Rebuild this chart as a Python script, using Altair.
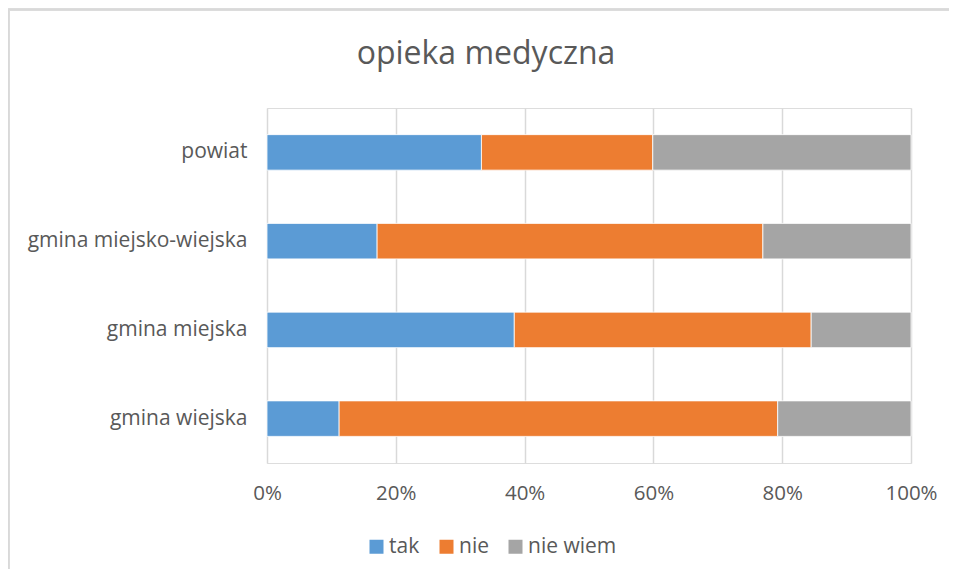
import altair as alt
import pandas as pd

categories = ["powiat", "gmina miejsko-wiejska", "gmina miejska", "gmina wiejska"]
series = ["tak", "nie", "nie wiem"]
tak = [33.3, 17.1, 38.4, 11.2]
nie = [26.6, 59.9, 46.1, 68.1]
nie_wiem = [40.1, 23.0, 15.5, 20.7]
colors = ["#5B9BD5", "#ED7D31", "#A5A5A5"]

rows = []
for i, c in enumerate(categories):
    for j, (s, vals) in enumerate(zip(series, [tak, nie, nie_wiem])):
        rows.append({"kategoria": c, "odpowiedz": s, "wartosc": vals[i], "kolej": j})
df = pd.DataFrame(rows)

FONT = "Open Sans"
TXT = "#595959"
FS = 21
W, H = 644, 355
PL, PT = 259, 100
TOTW, TOTH = 941, 561

bars = alt.Chart(df).mark_bar(stroke="white", strokeWidth=0.8).encode(
    y=alt.Y("kategoria:N", sort=categories, title=None,
            scale=alt.Scale(paddingInner=0.6, paddingOuter=0.3),
            axis=alt.Axis(labelFontSize=FS, labelFont=FONT, labelColor=TXT, labelLimit=400,
                          labelPadding=20, ticks=False, domain=False, grid=False)),
    x=alt.X("wartosc:Q", stack="normalize", title=None,
            scale=alt.Scale(domain=[0, 1], nice=False),
            axis=alt.Axis(format="%", values=[0, 0.2, 0.4, 0.6, 0.8, 1.0],
                          labelFontSize=20.5, labelFont=FONT, labelColor=TXT, labelFlush=False,
                          labelPadding=20, ticks=False, domain=False,
                          grid=True, gridColor="#d9d9d9", gridWidth=1.5)),
    color=alt.Color("odpowiedz:N", sort=series,
                    scale=alt.Scale(domain=series, range=colors),
                    legend=alt.Legend(title=None, orient="none", direction="horizontal",
                                      legendX=99, legendY=428,
                                      symbolType="square", symbolSize=196,
                                      symbolStrokeWidth=0, labelFontSize=21,
                                      labelFont=FONT, labelColor=TXT,
                                      columnPadding=16, labelOffset=2)),
    order=alt.Order("kolej:Q"),
)

border_top = alt.Chart(df).mark_rule(color="#d9d9d9", strokeWidth=1.5).encode(
    x=alt.value(-PL + 0.5), x2=alt.value(TOTW - PL), y=alt.value(-PT + 1.5))
border_left = alt.Chart(df).mark_rule(color="#d9d9d9", strokeWidth=1.5).encode(
    x=alt.value(-PL + 0.5), y=alt.value(-PT + 1.5), y2=alt.value(TOTH - PT))

chart = alt.layer(bars, border_top, border_left).properties(
    width=W, height=H,
    padding={"left": PL, "top": PT, "right": TOTW - PL - W, "bottom": TOTH - PT - H},
    autosize=alt.AutoSizeParams(type="none"),
    title=alt.TitleParams("opieka medyczna", fontSize=32, font=FONT, fontWeight="normal",
                          color=TXT, anchor="middle", dx=-103, offset=-62),
).configure_view(stroke=None).configure(background="white")

chart.save("out.html", embed_options={"renderer": "svg", "actions": False})
